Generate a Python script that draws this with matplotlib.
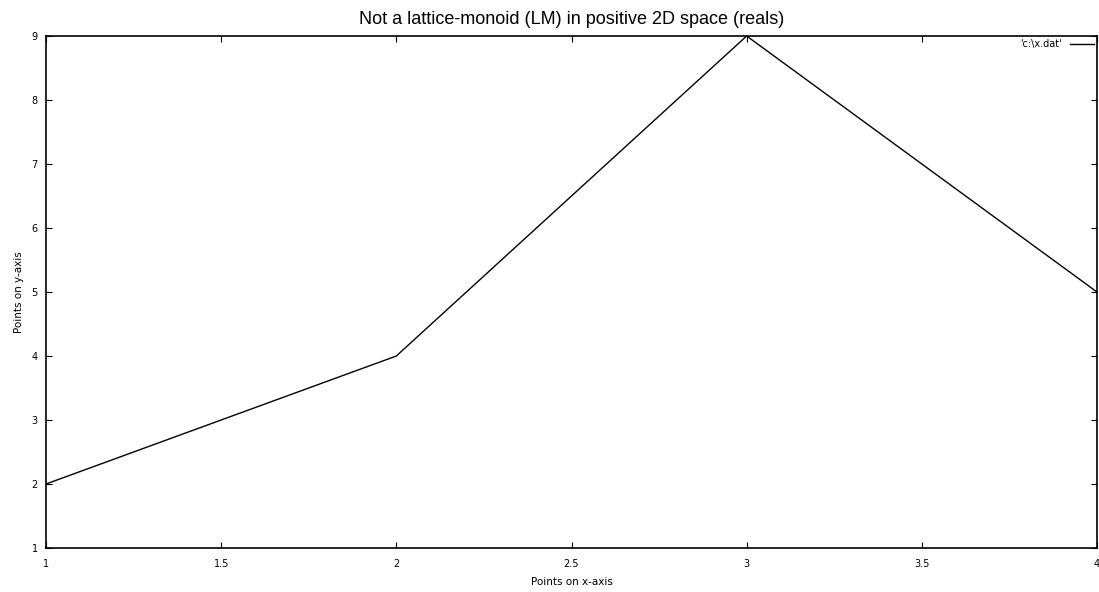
import matplotlib
matplotlib.use('Agg')
import matplotlib.pyplot as plt

# data
x_points = [1, 2, 3, 4]
y_points = [2, 4, 9, 5]
x_ticks = [1, 1.5, 2, 2.5, 3, 3.5, 4]
x_tick_labels = ['1', '1.5', '2', '2.5', '3', '3.5', '4']
y_ticks = [1, 2, 3, 4, 5, 6, 7, 8, 9]

fig = plt.figure(figsize=(10.99, 5.92), dpi=100)
ax = fig.add_axes([46/1099, 1 - 548/592, 1051/1099, 512/592])

ax.plot(x_points, y_points, color='black', linewidth=1, label="'c:\\x.dat'")

ax.set_xlim(1, 4)
ax.set_ylim(1, 9)
ax.set_xticks(x_ticks)
ax.set_xticklabels(x_tick_labels)
ax.set_yticks(y_ticks)
ax.tick_params(direction='in', length=4, width=0.8, labelsize=7,
               top=True, right=True)
ax.tick_params(axis='x', pad=8)
ax.tick_params(axis='y', pad=6)
for s in ax.spines.values():
    s.set_linewidth(1.2)

ax.set_xlabel('Points on x-axis', fontsize=7.5, labelpad=6)
ax.set_ylabel('Points on y-axis', fontsize=7.5, labelpad=5)
ax.set_title('Not a lattice-monoid (LM) in positive 2D space (reals)',
             fontsize=13, family='Liberation Sans', pad=9)

leg = ax.legend(loc='upper right', frameon=False, fontsize=7,
                markerfirst=False, handlelength=2.5, borderaxespad=0.0,
                borderpad=0.3)

fig.savefig('out.png', dpi=100)
